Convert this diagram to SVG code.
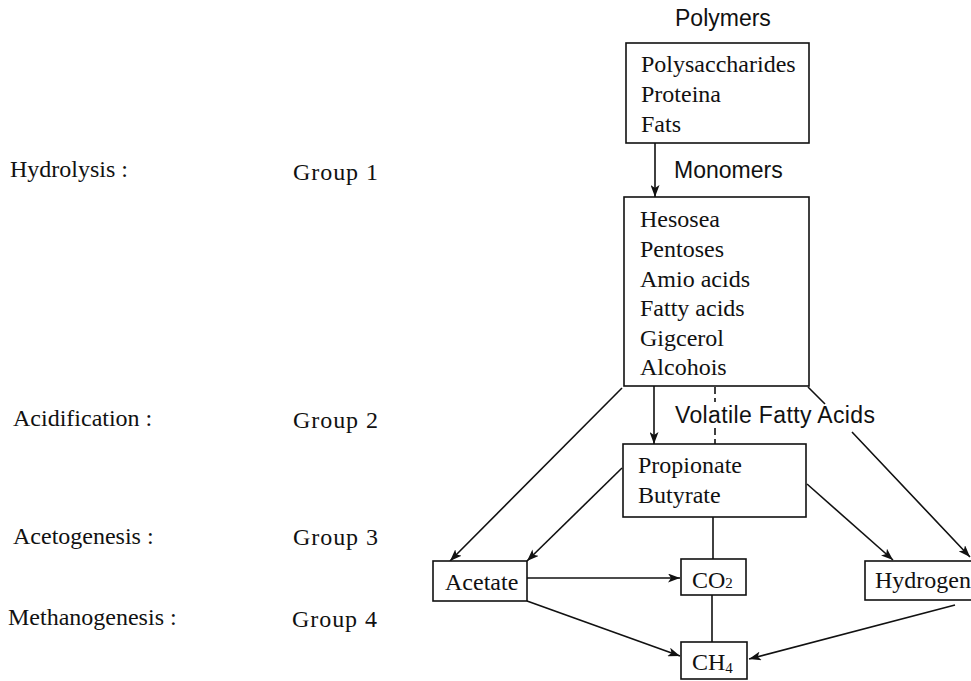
<svg xmlns="http://www.w3.org/2000/svg" width="971" height="681" viewBox="0 0 971 681">
<style>
  .serif { font-family: "Liberation Serif", "Times New Roman", serif; font-size: 24px; fill: #111; }
  .sans { font-family: "Liberation Sans", Arial, sans-serif; font-size: 23px; fill: #111; }
  .box { fill: #fff; stroke: #111; stroke-width: 1.6; }
  .conn { fill: none; stroke: #111; stroke-width: 1.6; }
  .arrow { marker-end: url(#ah); }
  .dash { stroke-dasharray: 7 4; }
</style>
<defs>
  <marker id="ah" markerUnits="userSpaceOnUse" markerWidth="13" markerHeight="9" refX="12" refY="4.5" orient="auto">
    <path d="M0,0 L12,4.5 L0,9 L3,4.5 z" fill="#111"/>
  </marker>
</defs>
<rect width="971" height="681" fill="#fff"/>

<g id="stage-labels">
  <text class="serif" x="10" y="177">Hydrolysis :</text>
  <text class="serif" x="293" y="180" textLength="85">Group 1</text>
  <text class="serif" x="13" y="426">Acidification :</text>
  <text class="serif" x="293" y="428" textLength="85">Group 2</text>
  <text class="serif" x="13" y="544">Acetogenesis :</text>
  <text class="serif" x="293" y="545" textLength="85">Group 3</text>
  <text class="serif" x="8" y="625">Methanogenesis :</text>
  <text class="serif" x="292" y="627" textLength="85">Group 4</text>
</g>

<g id="label-polymers"><text class="sans" x="675" y="26">Polymers</text></g>
<g id="label-monomers"><text class="sans" x="674" y="178">Monomers</text></g>
<g id="label-vfa"><text class="sans" x="675" y="423" textLength="200">Volatile Fatty Acids</text></g>

<g id="connectors">
  <path class="conn arrow" d="M655,143 L655,197"/>
  <path class="conn arrow" d="M654,386 L654,444"/>
  <path class="conn arrow" d="M622,388 L450,561"/>
  <path class="conn arrow" d="M622,468 L527,561"/>
  <path class="conn arrow" d="M808,387 L825,404 M852,432 L970,557"/>
  <path class="conn arrow" d="M807,484 L893,560"/>
  <path class="conn" d="M713,517 L713,559"/>
  <path class="conn" d="M712,595 L712,642"/>
  <path class="conn arrow" d="M527,578 L680,578"/>
  <path class="conn arrow" d="M527,601 L680,656"/>
  <path class="conn arrow" d="M955,605 L749,659"/>
  <path class="conn dash" d="M715,387 L715,402 M715,428 L715,444"/>
</g>

<g id="node-polymers">
  <rect class="box" x="626" y="43" width="183" height="100"/>
  <text class="serif" x="641" y="72">Polysaccharides</text>
  <text class="serif" x="641" y="102">Proteina</text>
  <text class="serif" x="641" y="132">Fats</text>
</g>

<g id="node-monomers">
  <rect class="box" x="624" y="197" width="185" height="189"/>
  <text class="serif" x="640" y="227">Hesosea</text>
  <text class="serif" x="640" y="257">Pentoses</text>
  <text class="serif" x="640" y="287">Amio acids</text>
  <text class="serif" x="640" y="316">Fatty acids</text>
  <text class="serif" x="640" y="346">Gigcerol</text>
  <text class="serif" x="640" y="375">Alcohois</text>
</g>

<g id="node-vfa">
  <rect class="box" x="623" y="444" width="183" height="73"/>
  <text class="serif" x="638" y="473">Propionate</text>
  <text class="serif" x="638" y="503">Butyrate</text>
</g>

<g id="node-acetate">
  <rect class="box" x="433" y="561" width="94" height="40"/>
  <text class="serif" x="445" y="590">Acetate</text>
</g>

<g id="node-co2">
  <rect class="box" x="681" y="559" width="65" height="36"/>
  <text class="serif" x="692" y="588">CO<tspan font-size="15">2</tspan></text>
</g>

<g id="node-hydrogen">
  <rect class="box" x="865" y="561" width="115" height="39"/>
  <text class="serif" x="875" y="588">Hydrogen</text>
</g>

<g id="node-ch4">
  <rect class="box" x="681" y="642" width="66" height="37"/>
  <text class="serif" x="692" y="670">CH<tspan font-size="15" dy="3">4</tspan></text>
</g>
</svg>
